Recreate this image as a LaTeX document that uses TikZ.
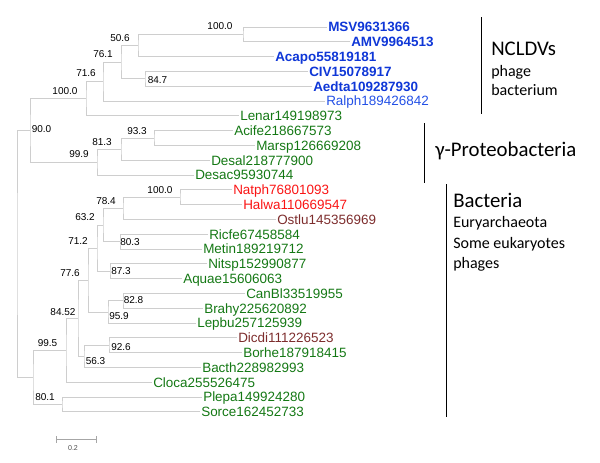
\documentclass[tikz,border=0pt]{standalone}
\usepackage{fontspec}
\setmainfont{Liberation Sans}
\newfontfamily\groupfont{Carlito}
\usepackage{xcolor}
\usepackage{tikz}
\definecolor{branchgray}{RGB}{206,206,206}
\definecolor{virusblue}{RGB}{15,55,215}
\definecolor{ralphblue}{RGB}{35,80,230}
\definecolor{bactgreen}{RGB}{20,120,20}
\definecolor{archred}{RGB}{250,20,20}
\definecolor{eukbrown}{RGB}{125,45,45}
\tikzset{
  branch/.style    = {draw=branchgray, line width=0.6pt},
  leaf/.style      = {anchor=west, inner sep=0.75pt, text height=7.2pt, text depth=0pt,
                      font=\fontsize{10.1}{12}\selectfont},
  virus/.style     = {leaf, virusblue, font=\fontsize{10.1}{12}\selectfont\bfseries},
  phagebact/.style = {leaf, ralphblue},
  bact/.style      = {leaf, bactgreen},
  arch/.style      = {leaf, archred},
  euk/.style       = {leaf, eukbrown},
  boot/.style      = {inner sep=0pt, text height=5.4pt, text depth=0pt,
                      font=\fontsize{7.5}{9}\selectfont},
  groupbar/.style  = {draw=black, line width=0.7pt},
  grouphead/.style = {anchor=base west, inner sep=0pt, font=\groupfont\fontsize{15.6}{18}\selectfont},
  groupsub/.style  = {anchor=base west, inner sep=0pt, font=\groupfont\fontsize{12}{14}\selectfont}
}
\begin{document}
\begin{tikzpicture}[x=0.75pt, y=-0.75pt]
  \useasboundingbox (0,0) rectangle (600,462);
  % leaves
  \node[virus] (msv)   at (327,27.0)  {MSV9631366};
  \node[virus] (amv)   at (350,41.8)  {AMV9964513};
  \node[virus] (acapo) at (274,56.6)  {Acapo55819181};
  \node[virus] (civ)   at (308,71.4)  {CIV15078917};
  \node[virus] (aedta) at (312,86.2)  {Aedta109287930};
  \node[phagebact] (ralph) at (325,101.0) {Ralph189426842};
  \node[bact] (lenar) at (239,115.8) {Lenar149198973};
  \node[bact] (acife) at (233,130.6) {Acife218667573};
  \node[bact] (marsp) at (255,145.4) {Marsp126669208};
  \node[bact] (desal) at (210,160.2) {Desal218777900};
  \node[bact] (desac) at (194,175.0) {Desac95930744};
  \node[arch] (natph) at (232,189.8) {Natph76801093};
  \node[arch] (halwa) at (242,204.6) {Halwa110669547};
  \node[euk]  (ostlu) at (276,219.4) {Ostlu145356969};
  \node[bact] (ricfe) at (208,234.2) {Ricfe67458584};
  \node[bact] (metin) at (202,249.0) {Metin189219712};
  \node[bact] (nitsp) at (207,263.8) {Nitsp152990877};
  \node[bact] (aquae) at (182,278.6) {Aquae15606063};
  \node[bact] (canbl) at (245,293.4) {CanBl33519955};
  \node[bact] (brahy) at (203,308.2) {Brahy225620892};
  \node[bact] (lepbu) at (196,323.0) {Lepbu257125939};
  \node[euk]  (dicdi) at (237,337.8) {Dicdi111226523};
  \node[bact] (borhe) at (242,352.6) {Borhe187918415};
  \node[bact] (bacth) at (201,367.4) {Bacth228982993};
  \node[bact] (cloca) at (152,382.2) {Cloca255526475};
  \node[bact] (plepa) at (202,397.0) {Plepa149924280};
  \node[bact] (sorce) at (200,411.8) {Sorce162452733};
  % inner nodes
  \coordinate (nA) at (243,34.4);
  \coordinate (nB) at (138,45.5);
  \coordinate (nC) at (145,78.8);
  \coordinate (nD) at (121,62.2);
  \coordinate (nE) at (103,81.6);
  \coordinate (nF) at (86,98.7);
  \coordinate (nH) at (154,138.0);
  \coordinate (nI) at (121,149.1);
  \coordinate (nJ) at (97,162.0);
  \coordinate (nG) at (30,130.4);
  \coordinate (nK) at (180,197.2);
  \coordinate (nL) at (123,208.3);
  \coordinate (nM) at (120,241.6);
  \coordinate (nN) at (103,225.0);
  \coordinate (nO) at (110,271.2);
  \coordinate (nP) at (97,248.1);
  \coordinate (nQ) at (123,300.8);
  \coordinate (nR) at (108,311.9);
  \coordinate (nS) at (88,280.0);
  \coordinate (nT) at (109,345.2);
  \coordinate (nU) at (84,356.3);
  \coordinate (nV) at (78,318.2);
  \coordinate (nW) at (66,350.2);
  \coordinate (nX) at (62,404.4);
  \coordinate (nY) at (33,377.3);
  \coordinate (root) at (17,253.9);
  % branches
  \draw[branch] (msv.west) -| (nA) |- (amv.west);
  \draw[branch] (nA) -| (nB) |- (acapo.west);
  \draw[branch] (civ.west) -| (nC) |- (aedta.west);
  \draw[branch] (nB) -| (nD) |- (nC);
  \draw[branch] (nD) -| (nE) |- (ralph.west);
  \draw[branch] (nE) -| (nF) |- (lenar.west);
  \draw[branch] (acife.west) -| (nH) |- (marsp.west);
  \draw[branch] (nH) -| (nI) |- (desal.west);
  \draw[branch] (nI) -| (nJ) |- (desac.west);
  \draw[branch] (nF) -| (nG) |- (nJ);
  \draw[branch] (natph.west) -| (nK) |- (halwa.west);
  \draw[branch] (nK) -| (nL) |- (ostlu.west);
  \draw[branch] (ricfe.west) -| (nM) |- (metin.west);
  \draw[branch] (nL) -| (nN) |- (nM);
  \draw[branch] (nitsp.west) -| (nO) |- (aquae.west);
  \draw[branch] (nN) -| (nP) |- (nO);
  \draw[branch] (canbl.west) -| (nQ) |- (brahy.west);
  \draw[branch] (nQ) -| (nR) |- (lepbu.west);
  \draw[branch] (nP) -| (nS) |- (nR);
  \draw[branch] (dicdi.west) -| (nT) |- (borhe.west);
  \draw[branch] (nT) -| (nU) |- (bacth.west);
  \draw[branch] (nS) -| (nV) |- (nU);
  \draw[branch] (nV) -| (nW) |- (cloca.west);
  \draw[branch] (plepa.west) -| (nX) |- (sorce.west);
  \draw[branch] (nW) -| (nY) |- (nX);
  \draw[branch] (nG) -| (root) |- (nY);
  % bootstrap values
  \node[boot] (bA) at (220,26)    {100.0};
  \node[boot] (bB) at (120,38)    {50.6};
  \node[boot] (bC) at (157.5,80)  {84.7};
  \node[boot] (bD) at (103,54)    {76.1};
  \node[boot] (bE) at (86,73)     {71.6};
  \node[boot] (bF) at (65,90.5)   {100.0};
  \node[boot] (bG) at (41.5,129)  {90.0};
  \node[boot] (bH) at (137,131)   {93.3};
  \node[boot] (bI) at (102,142)   {81.3};
  \node[boot] (bJ) at (79,154)    {99.9};
  \node[boot] (bK) at (160,190)   {100.0};
  \node[boot] (bL) at (106,201)   {78.4};
  \node[boot] (bN) at (85,217)    {63.2};
  \node[boot] (bM) at (130,242)   {80.3};
  \node[boot] (bP) at (78,241)    {71.2};
  \node[boot] (bO) at (121,271)   {87.3};
  \node[boot] (bS) at (70,273)    {77.6};
  \node[boot] (bQ) at (133.5,300) {82.8};
  \node[boot] (bR) at (119,316)   {95.9};
  \node[boot] (bV) at (63,312)    {84.52};
  \node[boot] (bT) at (121,347)   {92.6};
  \node[boot] (bU) at (95.5,361)  {56.3};
  \node[boot] (bW) at (47.5,343)  {99.5};
  \node[boot] (bX) at (45,397)    {80.1};
  % scale bar
  \draw[gray!70, line width=0.5pt] (56,436) -- (56,443) (56,439) -- (96,439) (96,436) -- (96,443);
  \node[inner sep=0pt, gray!60!black, font=\fontsize{5.3}{6}\selectfont] (sbar) at (73,448) {0.2};
  % groups
  \draw[groupbar] (481,17) -- (481,114);
  \draw[groupbar] (424,123) -- (424,183);
  \draw[groupbar] (446,184) -- (446,417);
  \node[grouphead] (ncldv) at (491,55.3)  {NCLDVs};
  \node[groupsub]  (phg)   at (491,76)    {phage};
  \node[groupsub]  (bctm)  at (491,95.7)  {bacterium};
  \node[grouphead] (gprot) at (435,156)   {γ-Proteobacteria};
  \node[grouphead] (bacts) at (453,207.3) {Bacteria};
  \node[groupsub]  (eury)  at (453,227.7) {Euryarchaeota};
  \node[groupsub]  (seuk)  at (453,248.3) {Some eukaryotes};
  \node[groupsub]  (phgs)  at (453,268)   {phages};
\end{tikzpicture}
\end{document}
